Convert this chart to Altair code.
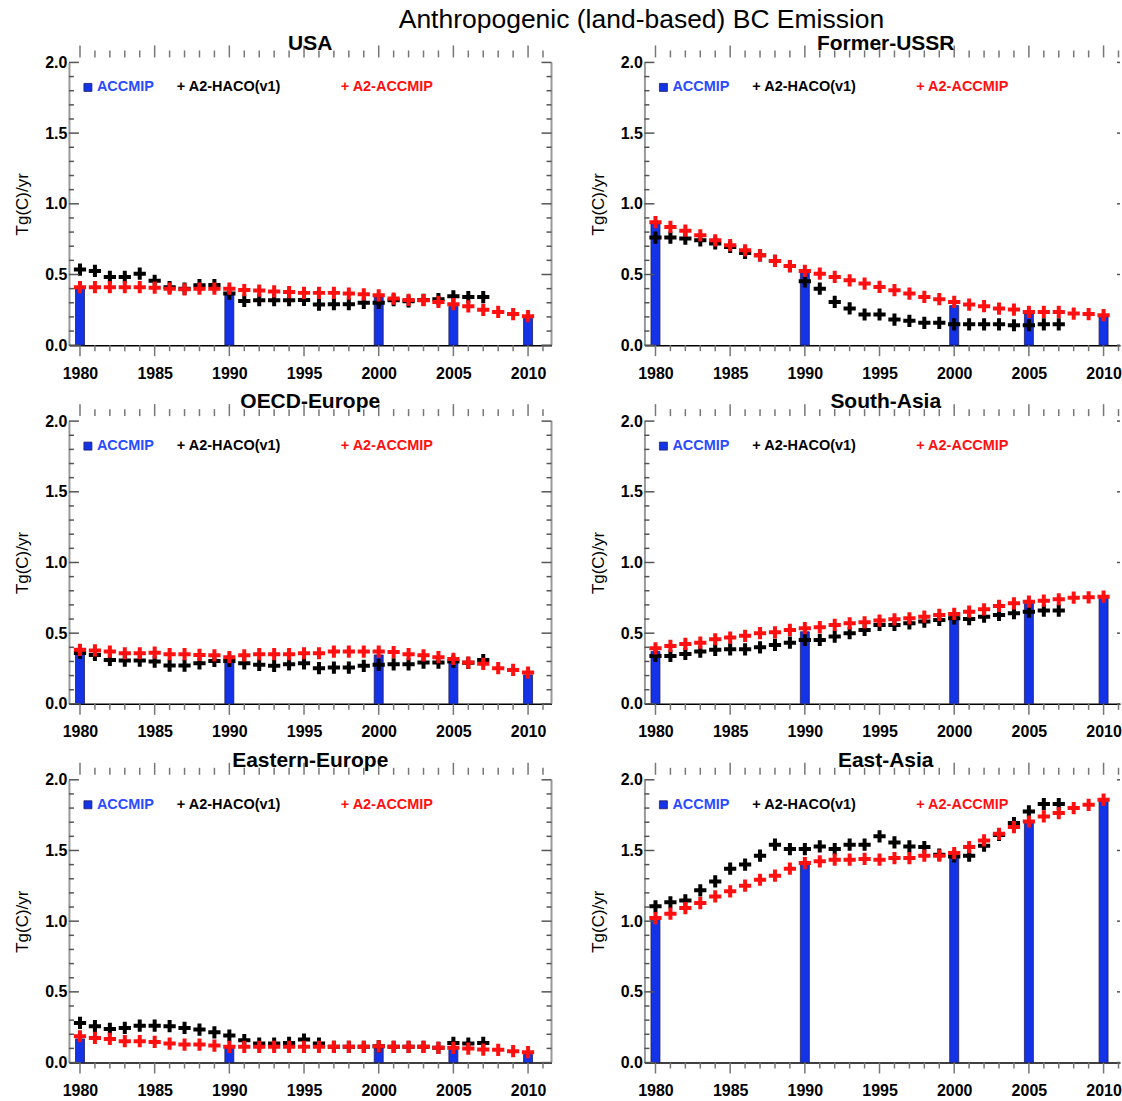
import altair as alt
import pandas as pd

FONT = "Liberation Sans"
BLUE = "#1432e6"
LEGEND_BLUE = "#2a4bff"
RED = "#ff1010"
TICK = "#777777"
PLUS = "M-1,0H1M0,-1V1"

# ---------------- data ----------------
years_haco = list(range(1980, 2008))      # A2-HACO(v1): 1980-2007
years_a2 = list(range(1980, 2011))        # A2-ACCMIP: 1980-2010
years_accmip = [1980, 1990, 2000, 2005, 2010]

regions = ["USA", "Former-USSR", "OECD-Europe", "South-Asia", "Eastern-Europe", "East-Asia"]

usa_haco = [0.535, 0.525, 0.483, 0.483, 0.506, 0.455, 0.41, 0.40, 0.424, 0.425,
            0.365, 0.313, 0.318, 0.318, 0.318, 0.32, 0.287, 0.29, 0.29, 0.30,
            0.30, 0.318, 0.31, 0.32, 0.325, 0.346, 0.34, 0.34]
usa_a2 = [0.41, 0.41, 0.41, 0.41, 0.41, 0.407, 0.40, 0.395, 0.40, 0.40,
          0.40, 0.39, 0.386, 0.38, 0.376, 0.37, 0.37, 0.37, 0.365, 0.36,
          0.353, 0.33, 0.32, 0.318, 0.306, 0.29, 0.275, 0.25, 0.235, 0.22, 0.205]
usa_accmip = [0.41, 0.365, 0.34, 0.275, 0.19]

fsu_haco = [0.761, 0.761, 0.754, 0.742, 0.72, 0.695, 0.652, 0.636, 0.596, 0.56,
            0.452, 0.40, 0.306, 0.26, 0.217, 0.217, 0.181, 0.172, 0.158, 0.158,
            0.148, 0.148, 0.148, 0.148, 0.141, 0.141, 0.148, 0.148]
fsu_a2 = [0.87, 0.836, 0.81, 0.777, 0.742, 0.707, 0.671, 0.636, 0.596, 0.56,
          0.525, 0.506, 0.483, 0.459, 0.436, 0.412, 0.389, 0.365, 0.341, 0.325,
          0.306, 0.287, 0.276, 0.259, 0.252, 0.235, 0.235, 0.235, 0.224, 0.22, 0.212]
fsu_accmip = [0.86, 0.52, 0.28, 0.22, 0.205]

oecd_haco = [0.36, 0.346, 0.311, 0.306, 0.306, 0.299, 0.271, 0.271, 0.287, 0.304,
             0.304, 0.287, 0.276, 0.269, 0.28, 0.287, 0.252, 0.257, 0.257, 0.269,
             0.276, 0.28, 0.28, 0.292, 0.292, 0.299, 0.29, 0.31]
oecd_a2 = [0.382, 0.378, 0.37, 0.358, 0.358, 0.362, 0.351, 0.351, 0.346, 0.343,
           0.33, 0.343, 0.351, 0.351, 0.351, 0.358, 0.358, 0.37, 0.37, 0.37,
           0.37, 0.366, 0.351, 0.343, 0.33, 0.318, 0.292, 0.283, 0.252, 0.24, 0.221]
oecd_accmip = [0.37, 0.31, 0.346, 0.287, 0.205]

sa_haco = [0.339, 0.339, 0.353, 0.37, 0.382, 0.386, 0.386, 0.40, 0.417, 0.433,
           0.452, 0.452, 0.476, 0.50, 0.523, 0.558, 0.558, 0.57, 0.582, 0.594,
           0.605, 0.60, 0.617, 0.629, 0.641, 0.652, 0.66, 0.66]
sa_a2 = [0.393, 0.41, 0.424, 0.433, 0.457, 0.469, 0.481, 0.50, 0.506, 0.523,
         0.535, 0.542, 0.558, 0.57, 0.577, 0.589, 0.598, 0.605, 0.617, 0.629,
         0.636, 0.652, 0.669, 0.693, 0.711, 0.723, 0.73, 0.74, 0.751, 0.754, 0.758]
sa_accmip = [0.37, 0.51, 0.617, 0.711, 0.747]

ee_haco = [0.28, 0.257, 0.238, 0.245, 0.261, 0.261, 0.257, 0.245, 0.233, 0.214,
           0.191, 0.158, 0.134, 0.134, 0.139, 0.163, 0.134, 0.111, 0.111, 0.111,
           0.115, 0.111, 0.111, 0.111, 0.104, 0.139, 0.134, 0.139]
ee_a2 = [0.186, 0.174, 0.167, 0.151, 0.151, 0.146, 0.134, 0.127, 0.127, 0.12,
         0.111, 0.111, 0.111, 0.111, 0.111, 0.111, 0.111, 0.111, 0.111, 0.111,
         0.115, 0.111, 0.111, 0.111, 0.104, 0.104, 0.099, 0.092, 0.09, 0.08, 0.073]
ee_accmip = [0.167, 0.104, 0.104, 0.092, 0.057]

ea_haco = [1.105, 1.133, 1.147, 1.218, 1.281, 1.371, 1.40, 1.463, 1.541, 1.51,
           1.51, 1.529, 1.51, 1.541, 1.541, 1.60, 1.557, 1.529, 1.524, 1.47,
           1.458, 1.463, 1.534, 1.61, 1.694, 1.776, 1.828, 1.828]
ea_a2 = [1.022, 1.053, 1.093, 1.128, 1.175, 1.211, 1.251, 1.293, 1.322, 1.371,
         1.411, 1.423, 1.435, 1.435, 1.44, 1.435, 1.446, 1.446, 1.463, 1.463,
         1.482, 1.524, 1.571, 1.618, 1.666, 1.705, 1.741, 1.765, 1.80, 1.823, 1.859]
ea_accmip = [1.01, 1.41, 1.45, 1.705, 1.847]

# axis ticks / labels
label_years = [1980, 1985, 1990, 1995, 2000, 2005, 2010]
major_years = [1980, 1985, 1990, 1995, 2000, 2005, 2010]
minor_years = [1981, 1982, 1983, 1984, 1986, 1987, 1988, 1989, 1991, 1992, 1993, 1994,
               1996, 1997, 1998, 1999, 2001, 2002, 2003, 2004, 2006, 2007, 2008, 2009, 2011]
ytick_major = [0.0, 0.5, 1.0, 1.5, 2.0]
ytick_minor = [0.1, 0.2, 0.3, 0.4, 0.6, 0.7, 0.8, 0.9, 1.1, 1.2, 1.3, 1.4,
               1.6, 1.7, 1.8, 1.9]
y_range = [0.0, 2.0]
legend_labels = ["ACCMIP", "+ A2-HACO(v1)", "+ A2-ACCMIP"]

H = 283


def panel(name, haco_vals, a2_vals, acc_vals, width, xmax, full_right, title_dx):
    xscale = alt.Scale(domain=[1979.26, xmax], nice=False, zero=False, padding=0)
    yscale = alt.Scale(domain=y_range, nice=False, padding=0)
    X = alt.X("year:Q", scale=xscale,
              axis=alt.Axis(values=label_years, format="d", title=None, ticks=False, grid=False,
                            domainColor="black", domainWidth=1.5,
                            labelFont=FONT, labelFontSize=16, labelFontWeight="bold",
                            labelColor="black", labelPadding=20, labelFlush=False,
                            labelOverlap=False))
    Y = alt.Y("v:Q", scale=yscale,
              axis=alt.Axis(values=ytick_major, format=".1f", title="Tg(C)/yr",
                            titleFont=FONT, titleFontSize=17, titleFontWeight="normal",
                            titleColor="black", titlePadding=13,
                            ticks=False, grid=False, domainColor="#999999", domainWidth=2,
                            labelFont=FONT, labelFontSize=16, labelFontWeight="bold",
                            labelColor="black", labelPadding=2, labelOverlap=False))

    df_acc = pd.DataFrame({"year": years_accmip, "v": acc_vals})
    df_haco = pd.DataFrame({"year": years_haco, "v": haco_vals})
    df_a2 = pd.DataFrame({"year": years_a2, "v": a2_vals})

    bars = alt.Chart(df_acc).mark_bar(size=9, color=BLUE, stroke="#202060",
                                      strokeWidth=0.8).encode(x=X, y=Y)
    haco = alt.Chart(df_haco).mark_point(shape=PLUS, filled=False, color="black",
                                         strokeWidth=4, size=150, opacity=1).encode(x=X, y=Y)
    a2 = alt.Chart(df_a2).mark_point(shape=PLUS, filled=False, color=RED,
                                     strokeWidth=4, size=150, opacity=1).encode(x=X, y=Y)

    dmaj = pd.DataFrame({"year": major_years})
    dmin = pd.DataFrame({"year": minor_years})
    ymaj = pd.DataFrame({"v": ytick_major})
    ymin = pd.DataFrame({"v": ytick_minor})

    layers = [bars, haco, a2]
    # bottom ticks (outward)
    layers.append(alt.Chart(dmaj).mark_rule(color=TICK, strokeWidth=1.5).encode(
        x=X, y=alt.value(H), y2=alt.value(H + 11)))
    layers.append(alt.Chart(dmin).mark_rule(color=TICK, strokeWidth=1.5).encode(
        x=X, y=alt.value(H), y2=alt.value(H + 6)))
    # top ticks (detached, above)
    layers.append(alt.Chart(dmaj).mark_rule(color=TICK, strokeWidth=1.5).encode(
        x=X, y=alt.value(-5), y2=alt.value(-17)))
    layers.append(alt.Chart(dmin).mark_rule(color=TICK, strokeWidth=1.5).encode(
        x=X, y=alt.value(-5), y2=alt.value(-12)))
    # left ticks (inward)
    layers.append(alt.Chart(ymaj).mark_rule(color="#555555", strokeWidth=1.5).encode(
        y=Y, x=alt.value(0), x2=alt.value(10)))
    layers.append(alt.Chart(ymin).mark_rule(color="#555555", strokeWidth=1.5).encode(
        y=Y, x=alt.value(0), x2=alt.value(5)))
    # right side
    if full_right:
        layers.append(alt.Chart(pd.DataFrame({"v": [y_range[0]], "v2": [y_range[1]]}))
                      .mark_rule(color="#999999", strokeWidth=2)
                      .encode(x=alt.value(width), y=Y, y2="v2:Q"))
        layers.append(alt.Chart(ymaj).mark_rule(color="#555555", strokeWidth=1.5).encode(
            y=Y, x=alt.value(width), x2=alt.value(width - 10)))
        layers.append(alt.Chart(ymin).mark_rule(color="#555555", strokeWidth=1.5).encode(
            y=Y, x=alt.value(width), x2=alt.value(width - 5)))
    else:
        layers.append(alt.Chart(ymaj).mark_rule(color="#555555", strokeWidth=1.5).encode(
            y=Y, x=alt.value(width), x2=alt.value(width - 3)))

    # in-panel legend
    layers.append(alt.Chart(pd.DataFrame({"label": [legend_labels[0]]})).mark_square(
        size=64, color=BLUE, stroke="#202060", strokeWidth=0.8, opacity=1).encode(
        x=alt.value(19), y=alt.value(25)))
    lx = [28, 108, 272]
    lc = [LEGEND_BLUE, "black", RED]
    for i in range(3):
        layers.append(alt.Chart(pd.DataFrame({"label": [legend_labels[i]]})).mark_text(
            align="left", baseline="middle", font=FONT, fontSize=14.5, fontWeight="bold",
            color=lc[i]).encode(x=alt.value(lx[i]), y=alt.value(25), text="label:N"))

    return alt.layer(*layers).properties(
        width=width, height=H,
        title=alt.TitleParams(name, font=FONT, fontSize=21, fontWeight="bold", color="black",
                              anchor="middle", offset=-9, dx=title_dx))


series = [
    (usa_haco, usa_a2, usa_accmip),
    (fsu_haco, fsu_a2, fsu_accmip),
    (oecd_haco, oecd_a2, oecd_accmip),
    (sa_haco, sa_a2, sa_accmip),
    (ee_haco, ee_a2, ee_accmip),
    (ea_haco, ea_a2, ea_accmip),
]

panels = []
for i, name in enumerate(regions):
    h, a, c = series[i]
    if i % 2 == 0:
        panels.append(panel(name, h, a, c, 483, 2011.57, True, 0))
    else:
        panels.append(panel(name, h, a, c, 476, 2011.10, False, 3.5))

chart = alt.concat(
    *panels, columns=2, spacing={"row": 76, "column": 93}, bounds="flush", align="all",
    title=alt.TitleParams("Anthropogenic (land-based) BC Emission", font=FONT, fontSize=26.5,
                          fontWeight="normal", color="black", anchor="middle", offset=-1,
                          dx=74)
).properties(
    padding={"left": 13, "top": 6, "right": 0, "bottom": 0}
).configure_view(stroke=None)

chart.save("out.html", embed_options={"renderer": "svg", "actions": False})
